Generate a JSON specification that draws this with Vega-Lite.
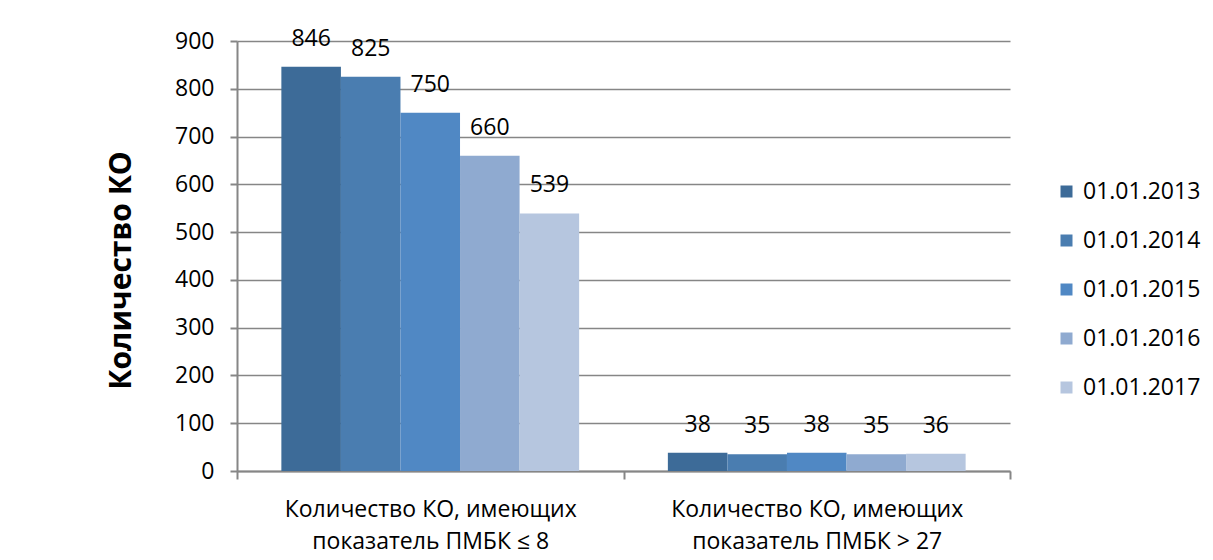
{
  "$schema": "https://vega.github.io/schema/vega-lite/v6.json",
  "width": 773,
  "height": 430,
  "autosize": {"type": "none"},
  "padding": {"left": 237, "top": 41, "right": 203, "bottom": 89},
  "background": "white",
  "data": {
    "values": [
      {"category": "Количество КО, имеющих показатель ПМБК ≤ 8", "date": "01.01.2013", "value": 846},
      {"category": "Количество КО, имеющих показатель ПМБК ≤ 8", "date": "01.01.2014", "value": 825},
      {"category": "Количество КО, имеющих показатель ПМБК ≤ 8", "date": "01.01.2015", "value": 750},
      {"category": "Количество КО, имеющих показатель ПМБК ≤ 8", "date": "01.01.2016", "value": 660},
      {"category": "Количество КО, имеющих показатель ПМБК ≤ 8", "date": "01.01.2017", "value": 539},
      {"category": "Количество КО, имеющих показатель ПМБК > 27", "date": "01.01.2013", "value": 38},
      {"category": "Количество КО, имеющих показатель ПМБК > 27", "date": "01.01.2014", "value": 35},
      {"category": "Количество КО, имеющих показатель ПМБК > 27", "date": "01.01.2015", "value": 38},
      {"category": "Количество КО, имеющих показатель ПМБК > 27", "date": "01.01.2016", "value": 35},
      {"category": "Количество КО, имеющих показатель ПМБК > 27", "date": "01.01.2017", "value": 36}
    ]
  },
  "encoding": {
    "x": {
      "field": "category",
      "type": "nominal",
      "sort": null,
      "scale": {"paddingInner": 0, "paddingOuter": 0},
      "axis": {
        "title": null,
        "labelAngle": 0,
        "labelFontSize": 23,
        "labelLimit": 0,
        "labelColor": "#000000",
        "labelLineHeight": 32,
        "labelPadding": 19,
        "labelBaseline": "top",
        "labelExpr": "[slice(datum.label, 0, indexof(datum.label, ' показатель')), slice(datum.label, indexof(datum.label, ' показатель') + 1)]",
        "tickBand": "extent",
        "tickSize": 8,
        "tickColor": "#868686",
        "tickWidth": 2,
        "domainColor": "#868686",
        "domainWidth": 2,
        "grid": false
      }
    },
    "xOffset": {
      "field": "date",
      "type": "nominal",
      "sort": null,
      "scale": {"paddingInner": 0, "paddingOuter": 0.745}
    },
    "y": {
      "field": "value",
      "type": "quantitative",
      "scale": {"domain": [0, 900]},
      "axis": {
        "title": "Количество КО",
        "titleFontSize": 30,
        "titleFontWeight": "bold",
        "titleColor": "#000000",
        "titlePadding": 38,
        "titleY": 229,
        "values": [0, 100, 200, 300, 400, 500, 600, 700, 800, 900],
        "labelFontSize": 23,
        "labelColor": "#000000",
        "labelPadding": 16,
        "tickSize": 7,
        "tickColor": "#868686",
        "tickWidth": 2,
        "domainColor": "#868686",
        "domainWidth": 2,
        "grid": true,
        "gridColor": "#868686",
        "gridWidth": 1.5
      }
    }
  },
  "layer": [
    {
      "mark": {"type": "bar"},
      "encoding": {
        "color": {
          "field": "date",
          "type": "nominal",
          "scale": {
            "domain": ["01.01.2013", "01.01.2014", "01.01.2015", "01.01.2016", "01.01.2017"],
            "range": ["#3D6B98", "#4A7DB0", "#5088C4", "#8FAAD0", "#B6C6DF"]
          },
          "legend": {
            "title": null,
            "orient": "none",
            "legendX": 818,
            "legendY": 139,
            "symbolType": "square",
            "symbolSize": 144,
            "symbolStrokeWidth": 0,
            "labelFontSize": 23,
            "labelColor": "#000000",
            "labelOffset": 5,
            "rowPadding": 25,
            "padding": 0
          }
        }
      }
    },
    {
      "mark": {"type": "text", "dy": -28, "baseline": "middle", "fontSize": 23, "color": "#000000"},
      "encoding": {"text": {"field": "value", "type": "quantitative"}}
    }
  ],
  "config": {"view": {"stroke": null}, "font": "Open Sans"}
}
